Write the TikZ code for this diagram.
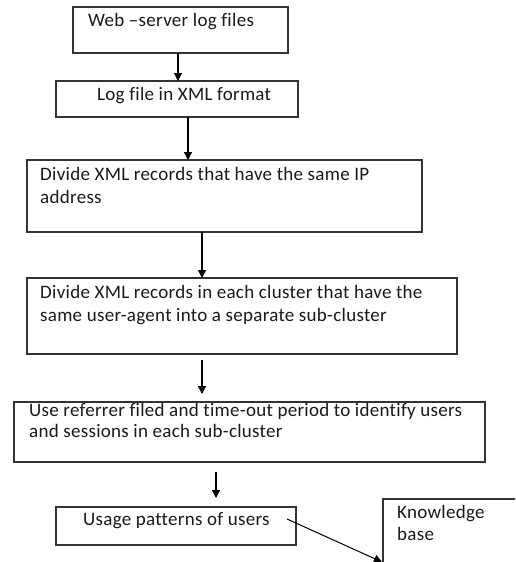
\documentclass[tikz,border=0pt]{standalone}
\usepackage{fontspec}
\setmainfont[LetterSpace=1.5,Ligatures=NoCommon]{Carlito}
\usetikzlibrary{arrows.meta}
\begin{document}
\begin{tikzpicture}[x=1pt,y=-1pt,
  box/.style={draw=black!80,line width=1.3pt,fill=none},
  txt/.style={anchor=base west,inner sep=0pt,font=\fontsize{19}{22}\selectfont,text=black!90},
  arr/.style={draw=black,line width=1.3pt,-{Triangle[width=8pt,length=8pt]}}]
\useasboundingbox (0,0) rectangle (515,562);
\clip (0,0) rectangle (515,562);
% boxes
\draw[box] (73,7) rectangle (288,53) node[pos=0.5,inner sep=0pt] (b1) {};
\draw[box] (56,81) rectangle (298,117) node[pos=0.5,inner sep=0pt] (b2) {};
\draw[box] (27,160) rectangle (422,232) node[pos=0.5,inner sep=0pt] (b3) {};
\draw[box] (27,278) rectangle (457,354) node[pos=0.5,inner sep=0pt] (b4) {};
\draw[box] (14,402) rectangle (485,462) node[pos=0.5,inner sep=0pt] (b5) {};
\draw[box] (56,507) rectangle (296,545) node[pos=0.5,inner sep=0pt] (b6) {};
\draw[box] (383,499) rectangle (540,590) node[pos=0.5,inner sep=0pt] (b7) {};
% texts
\node[txt] (t1) at (88,27) {Web –server log files};
\node[txt] (t2) at (97,100) {Log file in XML format};
\node[txt] (t3a) at (40,180) {Divide XML records that have the same IP};
\node[txt] (t3b) at (40,203) {address};
\node[txt] (t4a) at (40,298) {Divide XML records in each cluster that have the};
\node[txt] (t4b) at (40,321) {same user-agent into a separate sub-cluster};
\node[txt] (t5a) at (29,416) {Use referrer filed and time-out period to identify users};
\node[txt] (t5b) at (29,437) {and sessions in each sub-cluster};
\node[txt] (t6) at (83,525) {Usage patterns of users};
\node[txt] (t7a) at (397,518) {Knowledge};
\node[txt] (t7b) at (397,540) {base};
% arrow coordinates
\coordinate (a1s) at (178,53);  \coordinate (a1e) at (178,81);
\coordinate (a2s) at (188,117); \coordinate (a2e) at (188,160);
\coordinate (a3s) at (202,232); \coordinate (a3e) at (202,278);
\coordinate (a4s) at (202,360); \coordinate (a4e) at (202,394);
\coordinate (a5s) at (216,472); \coordinate (a5e) at (216,498);
\coordinate (a6s) at (287,519); \coordinate (a6e) at (382,562);
\draw[arr] (a1s) -- (a1e);
\draw[arr] (a2s) -- (a2e);
\draw[arr] (a3s) -- (a3e);
\draw[arr] (a4s) -- (a4e);
\draw[arr] (a5s) -- (a5e);
\draw[arr,line width=1pt] (a6s) -- (a6e);
\end{tikzpicture}
\end{document}
